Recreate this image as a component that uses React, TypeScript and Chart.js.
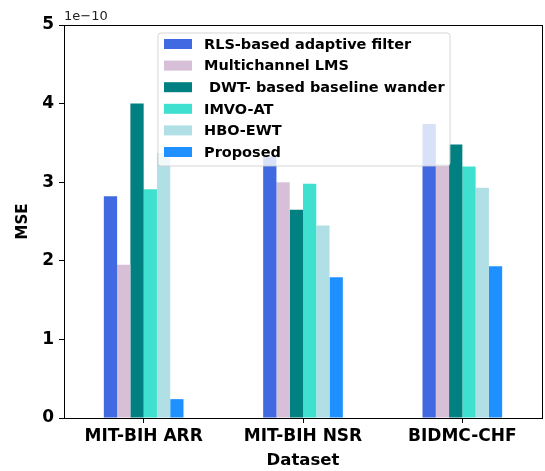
import React, { useEffect, useRef } from "react";
import { Chart, registerables } from "chart.js";

Chart.register(...registerables);

const categories = ["MIT-BIH ARR", "MIT-BIH NSR", "BIDMC-CHF"];
const seriesNames = [
  "RLS-based adaptive filter",
  "Multichannel LMS",
  " DWT- based baseline wander",
  "IMVO-AT",
  "HBO-EWT",
  "Proposed",
];
const seriesColors = ["#4169E1", "#D8BFD8", "#008080", "#40E0D0", "#B0E0E6", "#1E90FF"];
// values in units of 1e-10
const rlsValues = [2.82, 3.33, 3.74];
const lmsValues = [1.95, 3.0, 3.23];
const dwtValues = [4.0, 2.65, 3.48];
const imvoValues = [2.91, 2.98, 3.2];
const hboValues = [3.37, 2.45, 2.93];
const proposedValues = [0.24, 1.79, 1.93];
const yTicks = [0, 1, 2, 3, 4, 5];
const offsetText = "1e\u221210";

const FONT = "'DejaVu Sans', sans-serif";

const overlayPlugin = {
  id: "overlay",
  afterDatasetsDraw(chart: any) {
    const ctx = chart.ctx;
    const ca = chart.chartArea;
    ctx.save();
    // legend
    const lx = ca.left + 94;
    const ly = ca.top + 8;
    const lw = 292;
    const lh = 133;
    ctx.beginPath();
    const r = 3;
    ctx.moveTo(lx + r, ly);
    ctx.lineTo(lx + lw - r, ly);
    ctx.quadraticCurveTo(lx + lw, ly, lx + lw, ly + r);
    ctx.lineTo(lx + lw, ly + lh - r);
    ctx.quadraticCurveTo(lx + lw, ly + lh, lx + lw - r, ly + lh);
    ctx.lineTo(lx + r, ly + lh);
    ctx.quadraticCurveTo(lx, ly + lh, lx, ly + lh - r);
    ctx.lineTo(lx, ly + r);
    ctx.quadraticCurveTo(lx, ly, lx + r, ly);
    ctx.closePath();
    ctx.fillStyle = "rgba(255,255,255,0.8)";
    ctx.fill();
    ctx.strokeStyle = "rgba(204,204,204,0.8)";
    ctx.lineWidth = 1;
    ctx.stroke();
    ctx.font = "bold 14.5px " + FONT;
    ctx.textBaseline = "middle";
    ctx.textAlign = "left";
    chart.data.datasets.forEach((ds: any, i: number) => {
      const cy = ly + 11 + i * 21.6;
      ctx.fillStyle = ds.backgroundColor;
      ctx.fillRect(lx + 6, cy - 5, 28, 10);
      ctx.fillStyle = "#000";
      ctx.fillText(ds.label, lx + 46, cy + 1);
    });
    // box spines
    ctx.strokeStyle = "#000";
    ctx.lineWidth = 1;
    ctx.strokeRect(Math.round(ca.left) + 0.5, Math.round(ca.top) + 0.5, Math.round(ca.right - ca.left), Math.round(ca.bottom - ca.top));
    // offset text
    ctx.font = "13px " + FONT;
    ctx.fillStyle = "#222";
    ctx.textBaseline = "alphabetic";
    ctx.fillText(offsetText, ca.left, ca.top - 5);
    ctx.restore();
  },
};

export default function App() {
  const ref = useRef<HTMLCanvasElement | null>(null);
  useEffect(() => {
    if (!ref.current) return;
    const allValues = [rlsValues, lmsValues, dwtValues, imvoValues, hboValues, proposedValues];
    const chart = new Chart(ref.current, {
      type: "bar",
      data: {
        labels: categories,
        datasets: allValues.map((vals, i) => ({
          label: seriesNames[i],
          data: vals,
          backgroundColor: seriesColors[i],
          borderWidth: 0,
          categoryPercentage: 0.5,
          barPercentage: 1.0,
        })),
      },
      options: {
        animation: false,
        responsive: false,
        maintainAspectRatio: false,
        layout: { padding: { left: 0, right: 3, top: 25, bottom: 0 } },
        plugins: {
          legend: { display: false },
          tooltip: { enabled: false },
        },
        scales: {
          x: {
            offset: true,
            grid: { display: true, drawOnChartArea: false, drawTicks: true, tickLength: 5, color: "#000", offset: false },
            border: { display: true, color: "#000" },
            ticks: { color: "#000", font: { family: FONT, size: 17, weight: "bold" }, padding: 3, maxRotation: 0 },
            title: { display: true, text: "Dataset", color: "#000", font: { family: FONT, size: 16.5, weight: "bold" }, padding: { top: 0, bottom: 0 } },
            afterFit: (s: any) => { s.height = 53; },
          },
          y: {
            min: 0,
            max: 5,
            afterBuildTicks: (s: any) => { s.ticks = yTicks.map((v) => ({ value: v })); },
            grid: { display: true, drawOnChartArea: false, drawTicks: true, tickLength: 5, color: "#000" },
            border: { display: true, color: "#000" },
            ticks: { color: "#000", font: { family: FONT, size: 17, weight: "bold" }, padding: 5, callback: (v: any) => String(v) },
            title: { display: true, text: "MSE", color: "#000", font: { family: FONT, size: 15, weight: "bold" }, padding: { top: 14, bottom: 0 } },
            afterFit: (s: any) => { s.width = 64; },
          },
        },
      },
      plugins: [overlayPlugin],
    });
    return () => chart.destroy();
  }, []);
  return (
    <div style={{ position: "fixed", left: 0, top: 0, width: 545, height: 471, background: "#fff" }}>
      <canvas ref={ref} width={545} height={471} style={{ width: 545, height: 471 }} />
    </div>
  );
}
